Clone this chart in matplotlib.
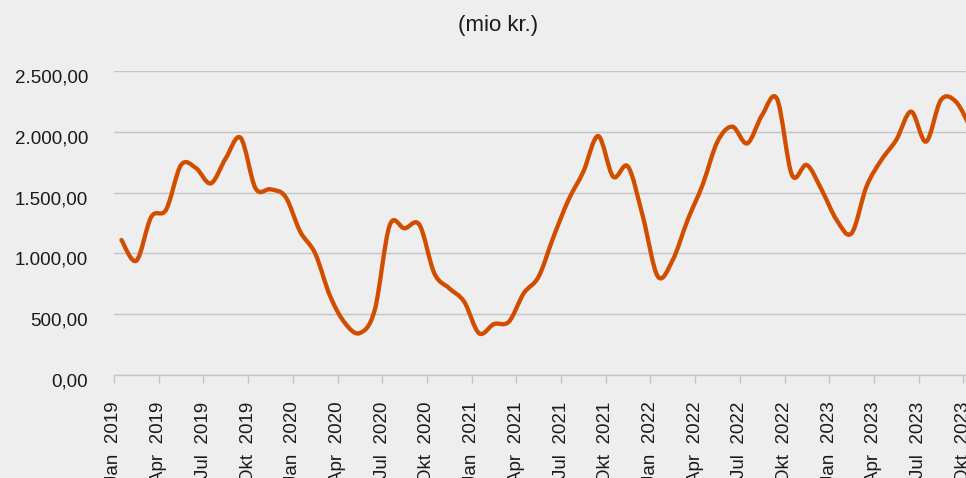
import matplotlib
matplotlib.use("Agg")
import matplotlib.pyplot as plt
import matplotlib.transforms as mtransforms
from matplotlib.path import Path
from matplotlib.patches import PathPatch
import numpy as np

plt.rcParams['font.family'] = ['Liberation Sans', 'DejaVu Sans']

# monthly values, Jan 2019 .. Oct 2023 (mio kr.)
values = [1110, 940, 1300, 1360, 1727, 1702, 1576, 1782, 1950, 1535, 1527, 1467,
          1178, 1000, 650, 427, 345, 535, 1230, 1206, 1235, 836, 713, 603,
          343, 419, 438, 672, 809, 1137, 1439, 1672, 1965, 1631, 1713, 1300,
          810, 946, 1275, 1563, 1919, 2042, 1905, 2138, 2270, 1645, 1727, 1521,
          1275, 1165, 1549, 1768, 1933, 2166, 1919, 2262, 2248, 2030]
months = ['Jan', 'Apr', 'Jul', 'Okt']
years = [2019, 2020, 2021, 2022, 2023]
tick_labels = [f'{m}  {y}' for y in years for m in months]
yticks = [0, 500, 1000, 1500, 2000, 2500]

bg = '#eeeeee'
line_color = '#d14e00'
grid_color = '#c4c4c4'

fig = plt.figure(figsize=(9.66, 4.78), dpi=100, facecolor=bg)
ax = fig.add_axes([114 / 966, 103 / 478, 894 / 966, 304 / 478])
ax.set_facecolor(bg)

# points sit in the middle of each month
x = np.arange(len(values)) + 0.5
y = np.array(values, dtype=float)

# smoothed line (Catmull-Rom as cubic Bezier segments)
verts = [(x[0], y[0])]
codes = [Path.MOVETO]
n = len(x)
for i in range(n - 1):
    p0 = np.array([x[max(i - 1, 0)], y[max(i - 1, 0)]])
    p1 = np.array([x[i], y[i]])
    p2 = np.array([x[i + 1], y[i + 1]])
    p3 = np.array([x[min(i + 2, n - 1)], y[min(i + 2, n - 1)]])
    c1 = p1 + (p2 - p0) / 6
    c2 = p2 - (p3 - p1) / 6
    verts += [tuple(c1), tuple(c2), tuple(p2)]
    codes += [Path.CURVE4] * 3
ax.add_patch(PathPatch(Path(verts, codes), facecolor='none', edgecolor=line_color,
                       lw=3.1, capstyle='round', joinstyle='round', zorder=3))

ax.set_xlim(0, 60)
ax.set_ylim(0, 2500)

ax.set_yticks(yticks)
ax.set_yticklabels([f'{v:,.2f}'.replace(',', 'X').replace('.', ',').replace('X', '.') for v in yticks])
ax.tick_params(axis='y', length=0, pad=18.5, labelsize=13.5, labelcolor='#1a1a1a')
offset = mtransforms.ScaledTranslation(0, -5 / 100, fig.dpi_scale_trans)
for lab in ax.get_yticklabels():
    lab.set_transform(lab.get_transform() + offset)

ax.set_xticks(np.arange(0, 3 * len(tick_labels), 3))
ax.set_xticklabels(tick_labels, rotation=90, ha='center', va='top')
ax.tick_params(axis='x', direction='out', length=6, width=1, color=grid_color,
               pad=13, labelsize=13.5, labelcolor='#1a1a1a')

ax.grid(axis='y', color=grid_color, lw=1)
ax.set_axisbelow(True)
for side in ['top', 'right', 'left']:
    ax.spines[side].set_visible(False)
ax.spines['bottom'].set_color(grid_color)
ax.spines['bottom'].set_linewidth(1)

fig.text(498 / 966, 1 - 25 / 478, '(mio kr.)', ha='center', va='center',
         fontsize=16, color='#1a1a1a')

fig.savefig('out.png', dpi=100, facecolor=bg)
